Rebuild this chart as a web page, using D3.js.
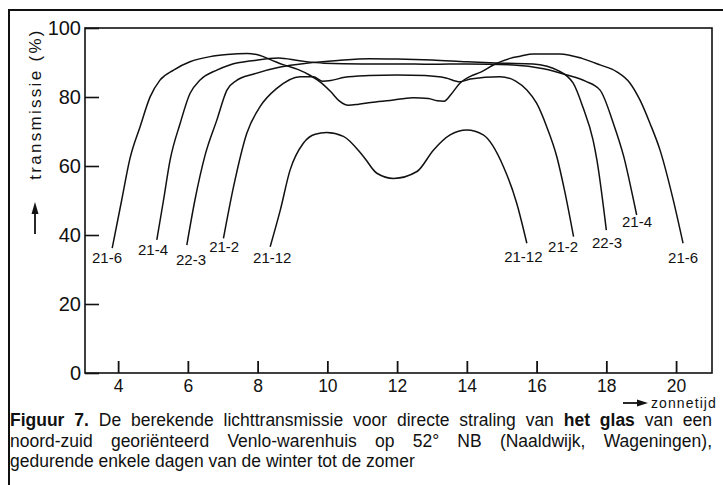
<!DOCTYPE html>
<html>
<head>
<meta charset="utf-8">
<script src="https://cdn.jsdelivr.net/npm/d3@7"></script>
<style>
  body { margin: 0; background: #fff; }
  svg { display: block; }
  text { font-family: "Liberation Sans", Arial, Helvetica, sans-serif; fill: #111; }
</style>
</head>
<body>
<svg id="chart" width="723" height="485"></svg>
<script>
// Solar time ticks (h) and transmission ticks (%)
const hourTicks = [4, 6, 8, 10, 12, 14, 16, 18, 20];
const pctTicks = [0, 20, 40, 60, 80, 100];

// Calculated transmission (%) against solar time (h), one series per day
const day_21_6 = [[3.83,36.2],[4.1,50],[4.34,62.2],[4.63,71.4],[4.92,80.1],[5.2,84.9],[5.59,87.8],[6.06,90.2],[6.64,91.7],[7.12,92.3],[7.7,92.6],[8.05,92.1],[8.4,90.7],[8.75,89.3],[9.15,88.0],[9.5,86.3],[9.8,84.3],[10.1,81.5],[10.35,78.8],[10.6,77.6],[10.9,77.9],[11.25,78.4],[11.8,79.0],[12.45,79.8],[12.9,79.6],[13.15,78.9],[13.35,78.8],[13.55,80.8],[13.8,84],[14.1,86],[14.4,87.2],[14.8,89.5],[15.24,91.2],[15.53,91.8],[15.9,92.5],[16.67,92.5],[17.3,91.2],[17.82,89.3],[18.3,87.3],[18.68,84],[18.97,79],[19.25,72.4],[19.54,64.6],[19.92,50.1],[20.2,37.6]];
const day_21_4 = [[5.11,38.6],[5.3,50],[5.49,61.7],[5.78,72.4],[6.06,81],[6.35,84.9],[6.83,87.8],[7.2,89.3],[7.9,90.6],[8.6,91.3],[9.2,90.5],[9.9,89.8],[11,89.6],[12,89.6],[13,89.5],[14,89.6],[15.33,89.3],[16.2,88.2],[16.87,86.4],[17.4,84.6],[17.82,82],[18.2,72.4],[18.5,62.7],[18.78,50.1],[18.87,45.8]];
const day_22_3 = [[5.97,37.1],[6.2,50],[6.49,63],[6.83,73.3],[7.12,82],[7.4,84.8],[7.87,86.6],[8.65,88.7],[9.4,89.8],[10.3,90.6],[11.2,91.1],[12,91],[13,90.7],[14,90.2],[15,89.8],[15.9,89.6],[16.3,88.9],[16.59,87.8],[17.05,84],[17.33,77],[17.62,67.5],[17.73,61.7],[18.0,41.4]];
const day_21_2 = [[7.02,39],[7.31,54],[7.69,69.5],[8.07,77.2],[8.55,82.5],[9.22,85.9],[9.6,85.9],[9.85,84.6],[10.1,84.8],[10.5,85.7],[11.2,86.2],[12,86.4],[12.8,86.2],[13.4,85.5],[13.8,84.4],[14.1,85.2],[14.95,85.9],[15.4,84.6],[15.72,82],[16.0,78.2],[16.29,71.4],[16.58,62.7],[16.8,53],[17.06,39.5]];
const day_21_12 = [[8.36,36.6],[8.65,47.2],[8.93,58.8],[9.31,66.6],[9.65,69.2],[9.98,69.7],[10.46,68.6],[11.04,62.7],[11.42,57.9],[11.9,56.4],[12.57,58.4],[13.04,64.6],[13.52,69],[14.0,70.4],[14.47,69],[15.05,59.8],[15.43,49.2],[15.72,37.6]];

const series = [day_21_6, day_21_4, day_22_3, day_21_2, day_21_12];
const dayNames = ["21-6", "21-4", "22-3", "21-2", "21-12"];

// Where each date is written (solar time, %) at the morning and evening ends
const morningLabelAt = [[3.25,31.9],[4.57,34.2],[5.66,31.3],[6.61,35.1],[7.87,31.9]];
const eveningLabelAt = [[19.77,31.9],[18.45,42.3],[17.59,36.2],[16.33,35.1],[15.07,32.2]];

const captionLine1 = [["Figuur",1],["7.",1],["De",0],["berekende",0],["lichttransmissie",0],["voor",0],["directe",0],["straling",0],["van",0],["het",1],["glas",1],["van",0],["een",0]];
const captionLine2 = "noord-zuid georiënteerd Venlo-warenhuis op 52° NB (Naaldwijk, Wageningen),";
const captionLine3 = "gedurende enkele dagen van de winter tot de zomer";

const svg = d3.select("#chart");

const plot = { left: 85, top: 28, right: 712, bottom: 373 };
const x = d3.scaleLinear().domain([3.05, 21.03]).range([plot.left, plot.right]);
const y = d3.scaleLinear().domain([0, 100]).range([plot.bottom, plot.top]);

// Outer page frame
svg.append("path")
  .attr("d", "M9,485V10H723")
  .attr("fill", "none").attr("stroke", "#111").attr("stroke-width", 2);

// Plot frame
svg.append("rect")
  .attr("x", plot.left).attr("y", plot.top)
  .attr("width", plot.right - plot.left).attr("height", plot.bottom - plot.top)
  .attr("fill", "none").attr("stroke", "#111").attr("stroke-width", 1.6);

// Axes with inward ticks
const yAxis = svg.append("g")
  .attr("transform", `translate(${plot.left},0)`)
  .call(d3.axisLeft(y).tickValues(pctTicks).tickSize(-14).tickPadding(4));
yAxis.select(".domain").remove();
yAxis.selectAll("line").attr("stroke", "#111").attr("stroke-width", 1.6);
yAxis.selectAll("text").style("font-size", "20px").attr("fill", "#111");

const xAxis = svg.append("g")
  .attr("transform", `translate(0,${plot.bottom})`)
  .call(d3.axisBottom(x).tickValues(hourTicks).tickSize(-12).tickPadding(7));
xAxis.select(".domain").remove();
xAxis.selectAll("line").attr("stroke", "#111").attr("stroke-width", 1.8);
xAxis.selectAll("text").style("font-size", "17.5px").attr("fill", "#111");

// Curves
const line = d3.line()
  .x(d => x(d[0]))
  .y(d => y(d[1]))
  .curve(d3.curveMonotoneX);

svg.append("g")
  .selectAll("path")
  .data(series)
  .join("path")
  .attr("d", line)
  .attr("fill", "none")
  .attr("stroke", "#111")
  .attr("stroke-width", 1.5)
  .attr("stroke-linejoin", "round");

// Date labels at both ends of each curve
const labelG = svg.append("g").style("font-size", "15px");
dayNames.forEach((name, i) => {
  [morningLabelAt[i], eveningLabelAt[i]].forEach(p => {
    labelG.append("text")
      .attr("x", x(p[0])).attr("y", y(p[1]))
      .text(name);
  });
});

// Vertical axis title with arrow
svg.append("text")
  .attr("transform", "translate(41,104) rotate(-90)")
  .attr("text-anchor", "middle")
  .style("font-size", "17px")
  .style("letter-spacing", "2.3px")
  .text("transmissie (%)");
svg.append("line")
  .attr("x1", 35).attr("x2", 35).attr("y1", 234).attr("y2", 210)
  .attr("stroke", "#111").attr("stroke-width", 1.8);
svg.append("path")
  .attr("d", "M35,202L31.5,214L38.5,214Z").attr("fill", "#111");

// Horizontal axis title with arrow
svg.append("line")
  .attr("x1", 623).attr("x2", 640).attr("y1", 403).attr("y2", 403)
  .attr("stroke", "#111").attr("stroke-width", 1.8);
svg.append("path")
  .attr("d", "M648,403L637,399.5L637,406.5Z").attr("fill", "#111");
svg.append("text")
  .attr("x", 651).attr("y", 407.5)
  .style("font-size", "14px")
  .style("letter-spacing", "1.1px")
  .text("zonnetijd");

// Caption: two justified lines and a last ragged line
const capSize = 17.5;
function justify(words, x0, x1, yb) {
  const g = svg.append("g").style("font-size", capSize + "px");
  const nodes = words.map(([w, b]) => g.append("text")
    .attr("y", yb)
    .style("font-weight", b ? "bold" : "normal")
    .text(w));
  const widths = nodes.map(n => n.node().getComputedTextLength());
  const total = d3.sum(widths);
  const gap = (x1 - x0 - total) / (words.length - 1);
  let cx = x0;
  nodes.forEach((n, i) => { n.attr("x", cx); cx += widths[i] + gap; });
}
justify(captionLine1, 10, 712, 426);
justify(captionLine2.split(" ").map(w => [w, 0]), 10, 712, 447);
svg.append("text")
  .attr("x", 10).attr("y", 467)
  .style("font-size", capSize + "px")
  .text(captionLine3);
</script>
</body>
</html>
